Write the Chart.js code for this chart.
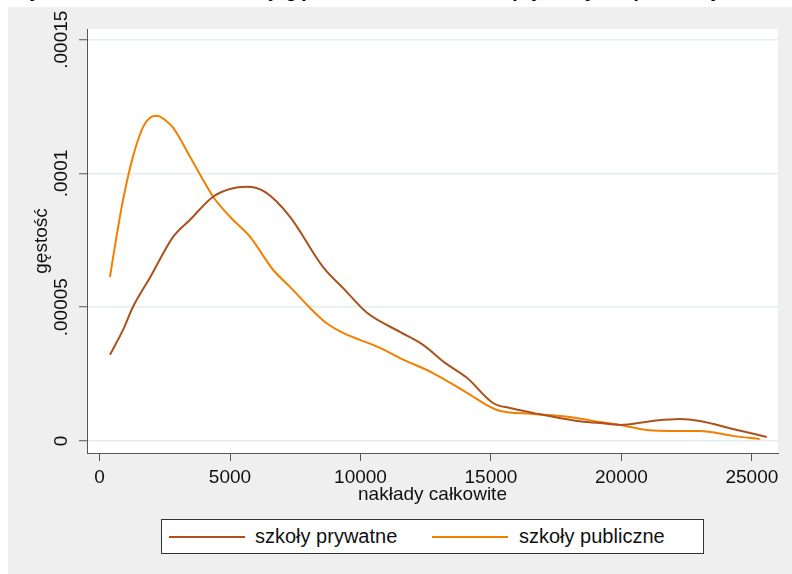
<!DOCTYPE html>
<html>
<head>
<meta charset="utf-8">
<script src="https://cdn.jsdelivr.net/npm/chart.js@4"></script>
<style>
  body { margin: 0; background: #fff; }
  #wrap { position: relative; width: 792px; height: 574px; overflow: hidden; font-family: "Liberation Sans", Arial, sans-serif; }
  #panel { position: absolute; left: 8px; top: 7px; right: 0; bottom: 0; background: #efefef; }
  #title { position: absolute; left: 12px; top: -19px; font-size: 19px; line-height: 19px; font-weight: bold; color: #000; white-space: nowrap; }
  #myChart { position: absolute; left: 0; top: 0; }
  #legenda { position: absolute; left: 161px; top: 519px; width: 541px; height: 33px; border: 1px solid #333; background: #fff; }
  .item { position: absolute; top: 0; height: 33px; line-height: 33px; font-size: 20px; color: #111; }
  .linea { position: absolute; top: 16px; width: 76px; height: 2px; }
</style>
</head>
<body>
<div id="wrap">
  <div id="title">Wykres 3. Porównanie funkcji gęstości nakładów szkół prywatnych i publicznych</div>
  <div id="panel"></div>
  <canvas id="myChart" width="792" height="574"></canvas>
  <div id="legenda">
    <div class="linea" style="left:7px;background:#aa521e"></div>
    <div class="item" style="left:93px">szkoły prywatne</div>
    <div class="linea" style="left:270px;background:#f27f00"></div>
    <div class="item" style="left:357px">szkoły publiczne</div>
  </div>
</div>
<script>
// datos
const xTicks = [0, 5000, 10000, 15000, 20000, 25000];
const yTicks = [0, 0.00005, 0.0001, 0.00015];
const yTickLabels = ['0', '.00005', '.0001', '.00015'];

const privX = [400, 900, 1280, 1930, 2820, 3470, 4350, 5000, 5650, 6340, 7300, 8560, 9400, 10250, 11510, 12400, 13240, 14080, 15080, 15730, 16610, 18290, 19180, 19940, 21200, 22240, 23000, 24270, 25570];
const privY = [3.22e-5, 4.15e-5, 5.01e-5, 6.10e-5, 7.63e-5, 8.27e-5, 9.13e-5, 9.42e-5, 9.50e-5, 9.31e-5, 8.38e-5, 6.51e-5, 5.65e-5, 4.79e-5, 4.08e-5, 3.59e-5, 2.92e-5, 2.36e-5, 1.42e-5, 1.23e-5, 1.05e-5, 7.5e-6, 6.7e-6, 6.0e-6, 7.5e-6, 8.2e-6, 7.5e-6, 4.5e-6, 1.5e-6];

const pubX = [400, 630, 900, 1280, 1670, 1930, 2200, 2510, 2820, 3470, 4120, 4350, 5000, 5770, 6650, 7300, 8070, 8640, 9330, 9980, 10750, 11510, 12780, 14080, 15230, 16610, 18020, 19180, 19940, 20970, 22120, 23000, 24270, 25300];
const pubY = [6.13e-5, 7.52e-5, 9.01e-5, 1.062e-4, 1.174e-4, 1.208e-4, 1.216e-4, 1.200e-4, 1.171e-4, 1.062e-4, 9.50e-5, 9.13e-5, 8.38e-5, 7.63e-5, 6.40e-5, 5.76e-5, 4.97e-5, 4.45e-5, 4.04e-5, 3.78e-5, 3.48e-5, 3.10e-5, 2.54e-5, 1.80e-5, 1.16e-5, 1.01e-5, 9.0e-6, 7.1e-6, 6.0e-6, 4.1e-6, 3.7e-6, 3.7e-6, 1.9e-6, 0.7e-6];

const fuente = '"Liberation Sans", Arial, sans-serif';

// fondo blanco del area del grafico y etiquetas verticales del eje y
const fondoPlugin = {
  id: 'fondo',
  beforeDraw(chart) {
    const a = chart.chartArea;
    chart.ctx.save();
    chart.ctx.fillStyle = '#ffffff';
    chart.ctx.fillRect(a.left, a.top, a.right - a.left, a.bottom - a.top);
    chart.ctx.restore();
  },
  afterDraw(chart) {
    const ctx = chart.ctx;
    const ys = chart.scales.y;
    ctx.save();
    ctx.font = '19px ' + fuente;
    ctx.fillStyle = '#111';
    ctx.textAlign = 'center';
    ctx.textBaseline = 'middle';
    for (let i = 0; i < yTicks.length; i++) {
      const py = ys.getPixelForValue(yTicks[i]);
      ctx.save();
      ctx.translate(62, py);
      ctx.rotate(-Math.PI / 2);
      ctx.fillText(yTickLabels[i], 0, 0);
      ctx.restore();
    }
    ctx.restore();
  }
};

const ctx = document.getElementById('myChart').getContext('2d');
const myChart = new Chart(ctx, {
  type: 'line',
  data: {
    datasets: [{
      label: 'szkoły prywatne',
      data: privX.map((x, i) => ({ x: x, y: privY[i] })),
      borderColor: '#aa521e',
      borderWidth: 2,
      pointRadius: 0,
      fill: false,
      cubicInterpolationMode: 'monotone'
    }, {
      label: 'szkoły publiczne',
      data: pubX.map((x, i) => ({ x: x, y: pubY[i] })),
      borderColor: '#f27f00',
      borderWidth: 2,
      pointRadius: 0,
      fill: false,
      cubicInterpolationMode: 'monotone'
    }]
  },
  options: {
    responsive: false,
    animation: false,
    devicePixelRatio: 1,
    layout: { padding: { top: 29, right: 14, left: 0, bottom: 0 } },
    plugins: { legend: { display: false }, tooltip: { enabled: false } },
    scales: {
      x: {
        type: 'linear',
        min: -480,
        max: 26000,
        afterBuildTicks: s => { s.ticks = xTicks.map(v => ({ value: v })); },
        afterFit: s => { s.height = 121; },
        ticks: {
          font: { size: 19, family: fuente },
          color: '#111',
          padding: 5,
          maxRotation: 0,
          autoSkip: false,
          callback: v => String(v)
        },
        grid: { drawOnChartArea: false, drawTicks: true, tickLength: 8, tickColor: '#555', tickWidth: 1 },
        border: { color: '#555', width: 1 },
        title: { display: true, text: 'nakłady całkowite', font: { size: 19, family: fuente }, color: '#111', padding: { top: 0, bottom: 68 } }
      },
      y: {
        type: 'linear',
        min: -0.0000045,
        max: 0.000154,
        afterBuildTicks: s => { s.ticks = yTicks.map(v => ({ value: v })); },
        afterFit: s => { s.width = 87; },
        ticks: { display: false },
        grid: { color: '#e4eef0', lineWidth: 1.5, drawTicks: true, tickLength: 8, tickColor: '#555', tickWidth: 1 },
        border: { color: '#555', width: 1 },
        title: { display: true, text: 'gęstość', font: { size: 19, family: fuente }, color: '#111', padding: { top: 30, bottom: 0 } }
      }
    }
  },
  plugins: [fondoPlugin]
});
</script>
</body>
</html>
